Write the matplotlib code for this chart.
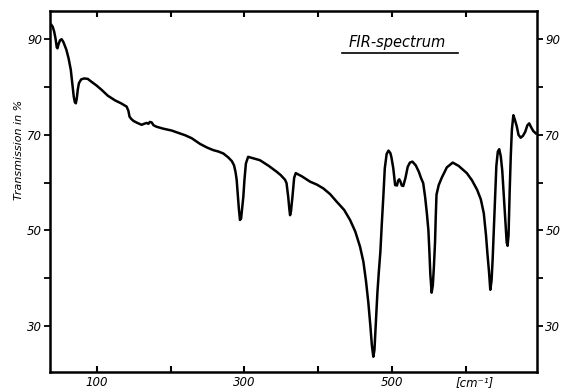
import matplotlib
matplotlib.use("Agg")
import matplotlib.pyplot as plt
from matplotlib.ticker import FixedLocator

# Wavenumber (cm^-1) and transmission (%)
wavenumber = [38.7, 40.5, 42.5, 44.5, 46, 47, 48.5, 50.5, 52.6, 55, 57, 59, 62, 65, 67, 69,
              70.5, 71.8, 73, 74.5, 76, 79, 83.2, 88, 93, 100, 106.8, 115, 125, 133, 140.6,
              143, 144.5, 147, 150, 155, 160.9, 164, 167.7, 170, 172, 174.5, 177, 181, 190,
              201.6, 212.8, 220, 228.6, 235.3, 240, 250, 258, 265, 271.5, 278, 283, 286, 288,
              289.5, 291, 292.5, 294, 295.5, 297, 298.5, 300, 302, 305, 312, 321, 333, 343.5,
              349, 352.7, 355, 357, 359.3, 360.8, 361.8, 363, 365, 367.3, 369.5, 378, 389,
              398, 406.8, 416, 425, 435, 443, 450, 456.5, 461, 464.5, 467.8, 470.5, 472.5,
              474.5, 476, 478, 480, 482, 484, 486, 488, 490, 492.5, 495, 497.5, 499, 501.5,
              504, 506.5, 508, 509.5, 511, 513, 515, 518, 521, 524, 527.4, 532, 536, 539, 542,
              544.6, 547, 549, 550.4, 551.6, 553.4, 555, 556.5, 558, 559, 560, 563, 567, 574,
              582, 590, 601, 608, 615, 620, 624, 627, 629, 631, 632.8, 634.5, 636, 637.5, 639,
              641, 643, 644.9, 647, 649, 651, 653, 655, 656.2, 657.5, 659, 660.5, 662, 664,
              666, 668.6, 671, 674, 677, 680, 683, 685.5, 688, 691, 694.5]
transmission = [93.0, 92.6, 91.6, 90.0, 88.3, 88.1, 89.0, 89.8, 90.0, 89.4, 88.6, 87.8, 86.0,
                83.6, 80.8, 78.0, 76.8, 76.6, 77.5, 79.5, 80.8, 81.6, 81.8, 81.7, 81.1, 80.3,
                79.4, 78.2, 77.2, 76.6, 75.9, 75.0, 73.8, 73.3, 72.9, 72.5, 72.1, 72.3, 72.5,
                72.3, 72.7, 72.6, 72.0, 71.7, 71.3, 70.9, 70.3, 69.9, 69.3, 68.6, 68.1, 67.3,
                66.8, 66.5, 66.1, 65.3, 64.5, 63.6, 62.2, 60.6, 57.5, 54.5, 52.2, 52.5, 54.8,
                57.0, 60.5, 64.0, 65.4, 65.1, 64.7, 63.5, 62.3, 61.6, 61.0, 60.6, 59.9, 57.0,
                54.5, 53.2, 54.0, 57.0, 61.0, 62.0, 61.3, 60.2, 59.6, 58.8, 57.6, 56.0, 54.3,
                52.2, 49.8, 46.6, 43.5, 39.5, 34.8, 30.0, 26.0, 23.6, 25.0, 31.0, 37.0, 41.5,
                45.5, 51.5, 57.0, 63.0, 66.0, 66.7, 66.2, 65.3, 63.0, 59.5, 59.4, 60.4, 60.7,
                60.3, 59.4, 59.3, 61.0, 63.3, 64.2, 64.4, 63.6, 62.3, 61.0, 59.9, 57.0, 53.5,
                50.1, 45.5, 41.0, 37.0, 38.5, 42.5, 47.5, 53.0, 57.5, 59.5, 61.0, 63.2, 64.2,
                63.5, 62.0, 60.5, 58.5, 56.5, 53.6, 49.0, 45.0, 41.5, 37.6, 39.5, 44.0, 50.0,
                56.5, 63.5, 66.5, 67.0, 65.5, 62.5, 57.5, 52.5, 47.5, 46.8, 49.0, 58.0, 65.5,
                71.0, 74.1, 73.2, 71.8, 70.0, 69.4, 69.8, 70.6, 72.0, 72.4, 71.6, 70.8, 70.3]

x_ticks = [100, 200, 300, 400, 500, 600]
x_tick_labels = ["100", "", "300", "", "500", ""]
y_major = [30, 50, 70, 90]
y_minor = [40, 60, 80]
y_tick_labels = ["30", "50", "70", "90"]

fig = plt.figure(figsize=(5.64, 3.88), dpi=100)
ax = fig.add_axes([0.0895, 0.0412, 0.8626, 0.9292])
ax.plot(wavenumber, transmission, color="black", lw=1.8, solid_joinstyle="round")
ax.set_xlim(37.5, 696)
ax.set_ylim(20.4, 95.8)

for s in ax.spines.values():
    s.set_linewidth(1.8)

fs = 8.5
ax.set_xticks(x_ticks)
ax.set_xticklabels(x_tick_labels, fontsize=fs, style="italic")
ax.tick_params(axis="x", direction="in", length=4, width=1.5, top=True, pad=3)

ax.set_yticks(y_major)
ax.set_yticklabels(y_tick_labels, fontsize=fs, style="italic")
ax.yaxis.set_minor_locator(FixedLocator(y_minor))
ax.tick_params(axis="y", which="both", direction="out", length=4, width=1.3,
               left=True, right=True, labelleft=True, labelright=True, pad=2)

ax.annotate("[cm\u207b\u00b9]", xy=(612, 20.4), xycoords="data", xytext=(0, -3),
            textcoords="offset points", ha="center", va="top", fontsize=fs,
            style="italic", annotation_clip=False)
ax.text(-0.065, 0.615, "Transmission in %", transform=ax.transAxes, rotation=90,
        ha="center", va="center", fontsize=8, style="italic")
ax.text(0.712, 0.915, "FIR-spectrum", transform=ax.transAxes, ha="center", va="center",
        fontsize=10.5, style="italic")
ax.plot([0.599, 0.838], [0.885, 0.885], transform=ax.transAxes, color="black", lw=1.2,
        clip_on=False)

fig.savefig("out.png", dpi=100)
